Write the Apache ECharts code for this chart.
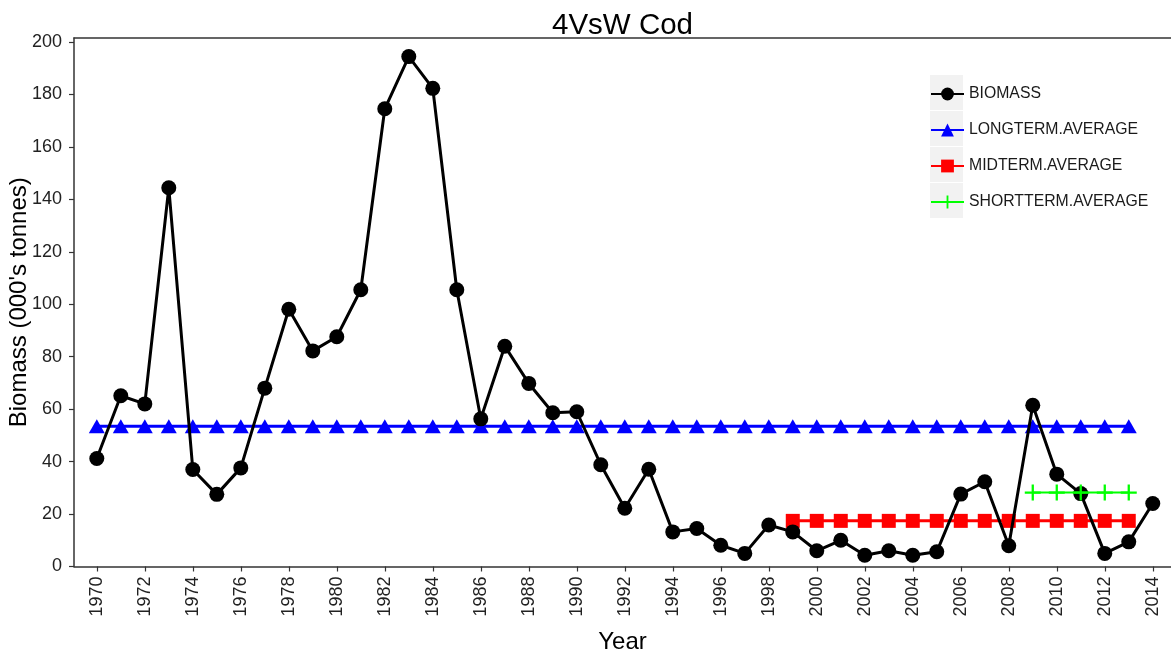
<!DOCTYPE html>
<html>
<head>
<meta charset="utf-8">
<script src="https://cdn.jsdelivr.net/npm/echarts@6/dist/echarts.min.js"></script>
<style>
  html, body { margin: 0; padding: 0; background: #ffffff; }
  #chart { width: 1171px; height: 655px; }
</style>
</head>
<body>
<div id="chart"></div>
<script>
// 4VsW cod biomass (000's tonnes) by year, with long, mid and short term averages
const years = [
  1970, 1971, 1972, 1973, 1974, 1975, 1976, 1977, 1978, 1979,
  1980, 1981, 1982, 1983, 1984, 1985, 1986, 1987, 1988, 1989,
  1990, 1991, 1992, 1993, 1994, 1995, 1996, 1997, 1998, 1999,
  2000, 2001, 2002, 2003, 2004, 2005, 2006, 2007, 2008, 2009,
  2010, 2011, 2012, 2013, 2014
];
const biomass = [
  41.2, 65.1, 62.0, 144.4, 37.0, 27.5, 37.6, 68.0, 98.1, 82.2,
  87.6, 105.5, 174.5, 194.4, 182.3, 105.5, 56.3, 84.0, 69.8, 58.6,
  59.0, 38.8, 22.2, 37.1, 13.2, 14.5, 8.1, 5.0, 15.8, 13.2,
  6.0, 10.0, 4.3, 6.0, 4.3, 5.6, 27.6, 32.3, 7.9, 61.5,
  35.2, 27.8, 5.0, 9.4, 24.0
];

// Averages and the year spans they are drawn over
const longTermAverage = 53.5;
const longTermSpan = [1970, 2013];
const midTermAverage = 17.4;
const midTermSpan = [1999, 2013];
const shortTermAverage = 28.2;
const shortTermSpan = [2009, 2013];

const xTickYears = [
  1970, 1972, 1974, 1976, 1978, 1980, 1982, 1984, 1986, 1988, 1990,
  1992, 1994, 1996, 1998, 2000, 2002, 2004, 2006, 2008, 2010, 2012, 2014
];

const seriesNames = ['BIOMASS', 'LONGTERM.AVERAGE', 'MIDTERM.AVERAGE', 'SHORTTERM.AVERAGE'];

function spanPoints(span, value) {
  return years.filter(y => y >= span[0] && y <= span[1]).map(y => [y, value]);
}

const FONT = '"Liberation Sans", Arial, sans-serif';
const plusSymbol = 'path://M6,0h2v6h6v2h-6v6h-2v-6h-6v-2h6z';

const chart = echarts.init(document.getElementById('chart'), null, { renderer: 'canvas' });

const xMin = 1969.05;
const xMax = 2014.76;

chart.setOption({
  animation: false,
  backgroundColor: '#ffffff',
  title: {
    text: '4VsW Cod',
    left: 622.5,
    top: 11,
    padding: 0,
    textAlign: 'center',
    textStyle: { fontFamily: FONT, fontSize: 29.5, fontWeight: 'normal', color: '#000000' }
  },
  grid: { left: 74, right: 0, top: 38, bottom: 88.5, containLabel: false, outerBoundsMode: 'none' },
  legend: {
    orient: 'vertical',
    left: 930,
    top: 86,
    padding: 0,
    itemWidth: 33,
    itemHeight: 16,
    itemGap: 20,
    data: seriesNames,
    textStyle: { fontFamily: FONT, fontSize: 15.8, color: '#1a1a1a', lineHeight: 16, padding: [0, 0, 0, 0] }
  },
  graphic: [0, 1, 2, 3].map(i => ({
    type: 'rect',
    z: -1,
    shape: { x: 930, y: 75 + i * 36, width: 33, height: 35 },
    style: { fill: '#f2f2f2' },
    silent: true
  })),
  xAxis: [
    {
      type: 'value',
      min: xMin,
      max: xMax,
      name: 'Year',
      nameLocation: 'middle',
      nameGap: 64,
      nameMoveOverlap: false,
      nameTextStyle: { fontFamily: FONT, fontSize: 24, color: '#000000' },
      axisLine: { show: true, lineStyle: { color: '#333333', width: 1.5 } },
      axisTick: { show: true, length: 5, customValues: xTickYears, lineStyle: { color: '#333333', width: 1.2 } },
      axisLabel: {
        customValues: xTickYears,
        rotate: 90,
        margin: 10,
        fontFamily: FONT,
        fontSize: 18,
        color: '#222222',
        formatter: v => String(v)
      },
      splitLine: { show: false }
    },
    {
      type: 'value',
      position: 'top',
      min: xMin,
      max: xMax,
      axisLine: { show: true, onZero: false, lineStyle: { color: '#333333', width: 1.5 } },
      axisTick: { show: false },
      axisLabel: { show: false },
      splitLine: { show: false }
    }
  ],
  yAxis: {
    type: 'value',
    min: 0,
    max: 201.5,
    interval: 20,
    name: "Biomass (000's tonnes)",
    nameLocation: 'middle',
    nameGap: 43,
    nameRotate: 90,
    nameMoveOverlap: false,
    nameTextStyle: { fontFamily: FONT, fontSize: 24, color: '#000000' },
    axisLine: { show: true, lineStyle: { color: '#333333', width: 1.5 } },
    axisTick: { show: true, length: 5, lineStyle: { color: '#333333', width: 1.2 } },
    axisLabel: { margin: 12, fontFamily: FONT, fontSize: 18, color: '#222222' },
    splitLine: { show: false }
  },
  series: [
    {
      name: seriesNames[0],
      type: 'line',
      data: years.map((y, i) => [y, biomass[i]]),
      symbol: 'circle',
      symbolSize: 15,
      lineStyle: { color: '#000000', width: 3 },
      itemStyle: { color: '#000000' },
      z: 5
    },
    {
      name: seriesNames[1],
      type: 'line',
      data: spanPoints(longTermSpan, longTermAverage),
      symbol: 'triangle',
      symbolSize: [16, 14],
      lineStyle: { color: '#0000ff', width: 3 },
      itemStyle: { color: '#0000ff' },
      z: 4
    },
    {
      name: seriesNames[2],
      type: 'line',
      data: spanPoints(midTermSpan, midTermAverage),
      symbol: 'rect',
      symbolSize: 14,
      lineStyle: { color: '#ff0000', width: 3 },
      itemStyle: { color: '#ff0000' },
      z: 3
    },
    {
      name: seriesNames[3],
      type: 'line',
      data: spanPoints(shortTermSpan, shortTermAverage),
      symbol: plusSymbol,
      symbolSize: 16,
      lineStyle: { color: '#00ff00', width: 2 },
      itemStyle: { color: '#00ff00' },
      z: 6
    }
  ]
});
</script>
</body>
</html>
